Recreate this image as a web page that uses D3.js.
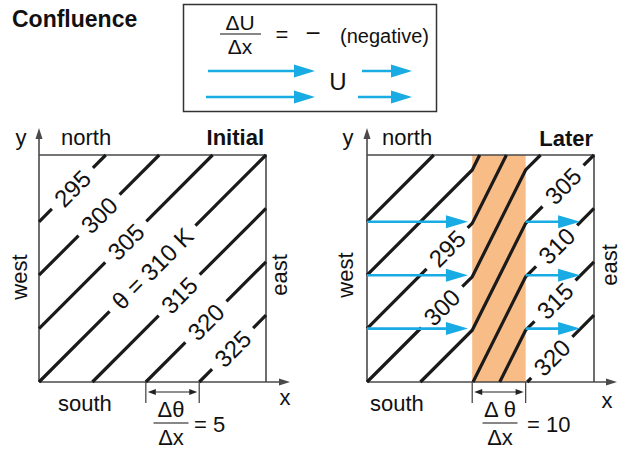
<!DOCTYPE html>
<html><head><meta charset="utf-8">
<script src="https://cdn.jsdelivr.net/npm/d3@7"></script>
<style>
body{margin:0;background:#fff}
svg{display:block}
text{font-family:"Liberation Sans",Arial,Helvetica,sans-serif;fill:#111}
</style>
</head><body>
<svg id="c" width="628" height="451"></svg>
<script>
// ---------- data ----------
const title = "Confluence";
const domainMax = 4.25;                 // box size in isotherm-spacing units
const thetaInitial = [295, 300, 305, 310, 315, 320, 325];
const labelsInitial = ["295", "300", "305", "θ = 310 K", "315", "320", "325"];
const thetaRefInitial = 310;
const thetaLater = [285, 290, 295, 300, 305, 310, 315, 320];
const labeledLater = [295, 300, 305, 310, 315, 320];
const labelLaterX = [1.50, 1.40, 3.67, 3.55, 3.52, 3.46];
const thetaRefLater = 300;
const thetaStep = 5;
const band = [1.97, 2.97];              // confluence zone (x)
const flowRowsY = [3, 2, 1];
const flowLeft = [0, 1.89];
const flowRight = [2.97, 3.99];
const gradInitialTicks = [2, 3];
const gradInitialValue = "5";
const gradLaterValue = "10";

// ---------- setup ----------
const svg = d3.select("#c");
const FS = 22, FSL = 24;
const lineCol = "#1a1a1a", boxCol = "#4a4a4a", blue = "#19ABE3", orange = "#F8BC87";

const y = d3.scaleLinear().domain([0, domainMax]).range([382, 155]);
const xL = d3.scaleLinear().domain([0, domainMax]).range([39, 266]);
const xR = d3.scaleLinear().domain([0, domainMax]).range([367, 594]);

function gLater(x) {
  if (x <= band[0]) return x;
  if (x <= band[1]) return band[0] + 2 * (x - band[0]);
  return x + (band[1] - band[0]);
}

function isoline(d, xs, g) {
  const H = domainMax;
  const pts = xs.map(x => [x, g(x) - d]);
  const out = [];
  for (let i = 0; i < pts.length - 1; i++) {
    let [x0, y0] = pts[i], [x1, y1] = pts[i + 1];
    if (y1 < 0 || y0 > H) continue;
    if (y0 < 0) { const t = (0 - y0) / (y1 - y0); x0 = x0 + t * (x1 - x0); y0 = 0; }
    if (y1 > H) { const t = (H - y0) / (y1 - y0); x1 = x0 + t * (x1 - x0); y1 = H; }
    if (!out.length || Math.abs(out[out.length - 1][0] - x0) > 1e-9) out.push([x0, y0]);
    out.push([x1, y1]);
  }
  return out;
}

function pointAtX(poly, xv) {
  for (let i = 0; i < poly.length - 1; i++) {
    const [a, b] = [poly[i], poly[i + 1]];
    if (xv >= a[0] && xv <= b[0]) {
      const t = (xv - a[0]) / (b[0] - a[0] || 1);
      return [a[0] + t * (b[0] - a[0]), a[1] + t * (b[1] - a[1])];
    }
  }
  return poly[0];
}

function splitPoly(pp, s1, s2) {
  const cum = [0];
  for (let i = 1; i < pp.length; i++) cum.push(cum[i - 1] + Math.hypot(pp[i][0] - pp[i - 1][0], pp[i][1] - pp[i - 1][1]));
  const at = s => {
    for (let i = 1; i < pp.length; i++) if (s <= cum[i]) {
      const t = (s - cum[i - 1]) / (cum[i] - cum[i - 1]);
      return [pp[i - 1][0] + t * (pp[i][0] - pp[i - 1][0]), pp[i - 1][1] + t * (pp[i][1] - pp[i - 1][1])];
    }
    return pp[pp.length - 1];
  };
  const L = cum[cum.length - 1];
  const A = [], B = [];
  if (s1 > 0) { for (let i = 0; i < pp.length; i++) if (cum[i] < s1) A.push(pp[i]); A.push(at(s1)); }
  if (s2 < L) { B.push(at(s2)); for (let i = 0; i < pp.length; i++) if (cum[i] > s2) B.push(pp[i]); }
  return [A, B].filter(s => s.length > 1);
}
function arcAt(pp, p) {
  let s = 0;
  for (let i = 1; i < pp.length; i++) {
    const a = pp[i - 1], b = pp[i];
    const seg = Math.hypot(b[0] - a[0], b[1] - a[1]);
    const minx = Math.min(a[0], b[0]) - 0.01, maxx = Math.max(a[0], b[0]) + 0.01;
    if (p[0] >= minx && p[0] <= maxx) return s + Math.hypot(p[0] - a[0], p[1] - a[1]);
    s += seg;
  }
  return s;
}

const line = d3.line();

function drawIso(g, xs, fn, d, xs_, labelText, labelX) {
  const poly = isoline(d, xs, fn);
  if (poly.length < 2) return;
  const pp = poly.map(p => [xs_(p[0]), y(p[1])]);
  let pieces = [pp];
  if (labelText != null) {
    const lp = pointAtX(poly, labelX);
    const px = [xs_(lp[0]), y(lp[1])];
    const t = g.append("text").attr("transform", `translate(${px[0]},${px[1]}) rotate(-45)`)
      .attr("text-anchor", "middle").attr("dy", "0.36em").attr("font-size", FSL).text(labelText);
    const w = t.node().getComputedTextLength();
    const s0 = arcAt(pp, px);
    pieces = splitPoly(pp, s0 - w / 2 - 9, s0 + w / 2 + 9);
  }
  pieces.forEach(p => g.append("path").attr("d", line(p)).attr("fill", "none")
    .attr("stroke", lineCol).attr("stroke-width", 3.2));
}

function arrow(g, x1, yy, x2, col, w, hl, hh) {
  g.append("line").attr("x1", x1).attr("x2", x2 - hl + 1).attr("y1", yy).attr("y2", yy)
    .attr("stroke", col).attr("stroke-width", w);
  g.append("path").attr("d", `M${x2},${yy}L${x2 - hl},${yy - hh}L${x2 - hl},${yy + hh}Z`).attr("fill", col);
}

function frame(g, xs_, xArrowEnd) {
  const x0 = xs_(0), x1 = xs_(domainMax), y0 = y(0), y1 = y(domainMax);
  g.append("path").attr("d", `M${x0},${y1}H${x1}V${y0}`).attr("fill", "none").attr("stroke", boxCol).attr("stroke-width", 1.6);
  g.append("line").attr("x1", x0).attr("x2", x0).attr("y1", y0).attr("y2", 138).attr("stroke", boxCol).attr("stroke-width", 1.6);
  g.append("path").attr("d", `M${x0},128L${x0 - 3.5},139L${x0 + 3.5},139Z`).attr("fill", boxCol);
  g.append("line").attr("x1", x0).attr("x2", xArrowEnd - 9).attr("y1", y0).attr("y2", y0).attr("stroke", boxCol).attr("stroke-width", 1.6);
  g.append("path").attr("d", `M${xArrowEnd},${y0}L${xArrowEnd - 11},${y0 - 3.5}L${xArrowEnd - 11},${y0 + 3.5}Z`).attr("fill", boxCol);
}

function gradAnnot(g, xa, xb, fracCx, fracW, numer, value, valueX) {
  [xa, xb].forEach(x => g.append("line").attr("x1", x).attr("x2", x).attr("y1", 382).attr("y2", 403)
    .attr("stroke", boxCol).attr("stroke-width", 1.3));
  const yy = 392;
  g.append("line").attr("x1", xa + 9).attr("x2", xb - 9).attr("y1", yy).attr("y2", yy).attr("stroke", "#222").attr("stroke-width", 1.2);
  g.append("path").attr("d", `M${xa + 2},${yy}L${xa + 10},${yy - 3}L${xa + 10},${yy + 3}Z`).attr("fill", "#222");
  g.append("path").attr("d", `M${xb - 2},${yy}L${xb - 10},${yy - 3}L${xb - 10},${yy + 3}Z`).attr("fill", "#222");
  g.append("text").attr("x", fracCx).attr("y", 417).attr("text-anchor", "middle").attr("font-size", FS).text(numer);
  g.append("line").attr("x1", fracCx - fracW / 2).attr("x2", fracCx + fracW / 2).attr("y1", 423).attr("y2", 423).attr("stroke", "#111").attr("stroke-width", 1.2);
  g.append("text").attr("x", fracCx).attr("y", 445).attr("text-anchor", "middle").attr("font-size", FS).text("Δx");
  g.append("text").attr("x", valueX).attr("y", 432).attr("font-size", FS).text("= " + value);
}

// ---------- title & legend ----------
svg.append("text").attr("x", 12).attr("y", 27).attr("font-size", 23).attr("font-weight", "bold").text(title);
const lg = svg.append("g");
lg.append("rect").attr("x", 183.5).attr("y", 4.5).attr("width", 253).attr("height", 107).attr("fill", "none").attr("stroke", "#333").attr("stroke-width", 1.5);
lg.append("text").attr("x", 240).attr("y", 30).attr("text-anchor", "middle").attr("font-size", 21).text("ΔU");
lg.append("line").attr("x1", 220).attr("x2", 261).attr("y1", 34).attr("y2", 34).attr("stroke", "#111").attr("stroke-width", 1.2);
lg.append("text").attr("x", 240).attr("y", 54).attr("text-anchor", "middle").attr("font-size", 21).text("Δx");
lg.append("text").attr("x", 282).attr("y", 42).attr("text-anchor", "middle").attr("font-size", FS).text("=");
lg.append("text").attr("x", 313).attr("y", 42).attr("text-anchor", "middle").attr("font-size", 26).text("−");
lg.append("text").attr("x", 340).attr("y", 43).attr("font-size", 20).text("(negative)");
lg.append("text").attr("x", 338).attr("y", 90).attr("text-anchor", "middle").attr("font-size", 24).text("U");
arrow(lg, 208, 71, 315, blue, 2.5, 21, 6.5);
arrow(lg, 362, 71, 412, blue, 2.5, 21, 6.5);
arrow(lg, 206, 97, 315, blue, 2.5, 21, 6.5);
arrow(lg, 358, 97, 412, blue, 2.5, 21, 6.5);

// ---------- Initial panel ----------
const gI = svg.append("g");
frame(gI, xL, 290);
thetaInitial.forEach((th, i) => {
  const d = (th - thetaRefInitial) / thetaStep;
  drawIso(gI, [0, domainMax], x => x, d, xL, labelsInitial[i], (domainMax + d) / 2);
});
gI.append("text").attr("x", 21).attr("y", 145).attr("text-anchor", "middle").attr("font-size", FS).text("y");
gI.append("text").attr("x", 61).attr("y", 145).attr("font-size", FS).text("north");
gI.append("text").attr("x", 264).attr("y", 145).attr("text-anchor", "end").attr("font-size", FS).attr("font-weight", "bold").text("Initial");
gI.append("text").attr("x", 285).attr("y", 405).attr("text-anchor", "middle").attr("font-size", FS).text("x");
gI.append("text").attr("x", 58).attr("y", 411).attr("font-size", FS).text("south");
gI.append("text").attr("transform", "translate(27,277) rotate(-90)").attr("text-anchor", "middle").attr("font-size", FS).text("west");
gI.append("text").attr("transform", "translate(287,275) rotate(-90)").attr("text-anchor", "middle").attr("font-size", FS).text("east");
gradAnnot(gI, xL(gradInitialTicks[0]), xL(gradInitialTicks[1]), 171, 35, "Δθ", gradInitialValue, 194);

// ---------- Later panel ----------
const gR = svg.append("g");
gR.append("rect").attr("x", xR(band[0])).attr("y", y(domainMax)).attr("width", xR(band[1]) - xR(band[0]))
  .attr("height", y(0) - y(domainMax)).attr("fill", orange);
frame(gR, xR, 617);
thetaLater.forEach(th => {
  const d = (th - thetaRefLater) / thetaStep;
  const li = labeledLater.indexOf(th);
  drawIso(gR, [0, band[0], band[1], domainMax], gLater, d, xR, li >= 0 ? String(th) : null, li >= 0 ? labelLaterX[li] : 0);
});
flowRowsY.forEach(r => {
  arrow(gR, xR(flowLeft[0]), y(r), xR(flowLeft[1]), blue, 2.6, 22, 6.5);
  arrow(gR, xR(flowRight[0]), y(r), xR(flowRight[1]), blue, 2.6, 22, 6.5);
});
gR.append("text").attr("x", 348).attr("y", 145).attr("text-anchor", "middle").attr("font-size", FS).text("y");
gR.append("text").attr("x", 382).attr("y", 145).attr("font-size", FS).text("north");
gR.append("text").attr("x", 593).attr("y", 146).attr("text-anchor", "end").attr("font-size", FS).attr("font-weight", "bold").text("Later");
gR.append("text").attr("x", 607).attr("y", 408).attr("text-anchor", "middle").attr("font-size", FS).text("x");
gR.append("text").attr("x", 370).attr("y", 411).attr("font-size", FS).text("south");
gR.append("text").attr("transform", "translate(353,275) rotate(-90)").attr("text-anchor", "middle").attr("font-size", FS).text("west");
gR.append("text").attr("transform", "translate(617,265) rotate(-90)").attr("text-anchor", "middle").attr("font-size", FS).text("east");
gradAnnot(gR, xR(band[0]), xR(band[1]), 500, 35, "Δ θ", gradLaterValue, 527);
</script>
</body></html>
